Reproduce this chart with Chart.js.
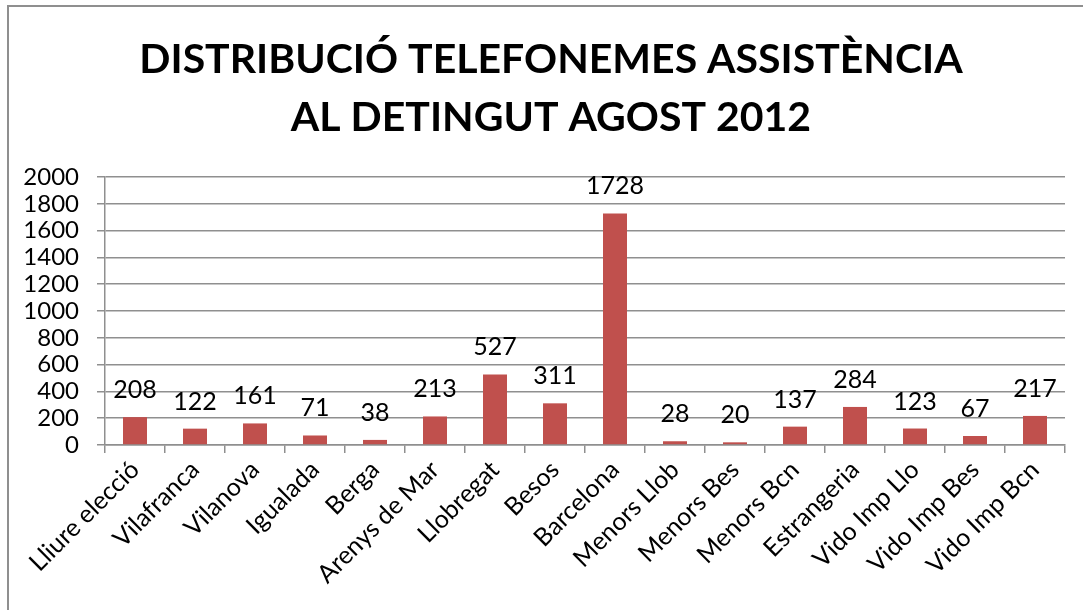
<!DOCTYPE html>
<html>
<head>
<meta charset="utf-8">
<script src="https://cdn.jsdelivr.net/npm/chart.js@4"></script>
<style>
  html, body { margin: 0; padding: 0; background: #fff; }
  #wrap { width: 1083px; height: 610px; }
</style>
</head>
<body>
<div id="wrap"><canvas id="grafic"></canvas></div>
<script>
// Dades del gràfic
const categories = ['Lliure elecció', 'Vilafranca', 'Vilanova', 'Igualada', 'Berga', 'Arenys de Mar',
    'Llobregat', 'Besos', 'Barcelona', 'Menors Llob', 'Menors Bes', 'Menors Bcn',
    'Estrangeria', 'Vido Imp Llo', 'Vido Imp Bes', 'Vido Imp Bcn'];
const trucades = [208, 122, 161, 71, 38, 213, 527, 311, 1728, 28, 20, 137, 284, 123, 67, 217];
const titol = ['DISTRIBUCIÓ TELEFONEMES ASSISTÈNCIA', 'AL DETINGUT AGOST 2012'];
const yMin = 0, yMax = 2000, yStep = 200;

const FONT = 'Lato, "Open Sans", sans-serif';
Chart.defaults.color = '#000';
Chart.defaults.font.family = FONT;

// Marc i fons
const fonsPlugin = {
    id: 'fons',
    beforeDraw(chart) {
        const ctx = chart.ctx;
        ctx.save();
        ctx.fillStyle = '#fff';
        ctx.fillRect(0, 0, chart.width, chart.height);
        ctx.strokeStyle = '#8f8f8f';
        ctx.lineWidth = 2;
        ctx.strokeRect(8, 6, chart.width + 20, chart.height + 20);
        ctx.restore();
    }
};

// El títol queda una mica desplaçat a la dreta
const titolPlugin = {
    id: 'titolDesplacat',
    afterLayout(chart) {
        if (chart.titleBlock) {
            chart.titleBlock.left += 17;
            chart.titleBlock.right += 0;
        }
    }
};

// Etiquetes de valor sobre cada barra
const etiquetesPlugin = {
    id: 'etiquetes',
    afterDatasetsDraw(chart) {
        const ctx = chart.ctx;
        const meta = chart.getDatasetMeta(0);
        ctx.save();
        ctx.font = '25px ' + FONT;
        ctx.fillStyle = '#000';
        ctx.textAlign = 'center';
        ctx.textBaseline = 'alphabetic';
        meta.data.forEach((bar, i) => {
            ctx.fillText(String(trucades[i]), bar.x, bar.y - 19);
        });
        ctx.restore();
    }
};

new Chart(document.getElementById('grafic'), {
    type: 'bar',
    data: {
        labels: categories,
        datasets: [{
            data: trucades,
            backgroundColor: '#C0504D',
            borderWidth: 0,
            categoryPercentage: 0.4,
            barPercentage: 1
        }]
    },
    options: {
        responsive: true,
        maintainAspectRatio: false,
        animation: false,
        layout: { padding: { left: 20, right: 18, top: 0, bottom: 0 } },
        plugins: {
            legend: { display: false },
            tooltip: { enabled: false },
            title: {
                display: true,
                text: titol,
                color: '#000',
                font: { size: 41, weight: 'bold', family: FONT, lineHeight: 58 / 41 },
                padding: { top: 31, bottom: 30 }
            }
        },
        scales: {
            x: {
                afterFit(scale) { scale.height = 165; },
                grid: {
                    drawOnChartArea: false,
                    drawTicks: true,
                    tickLength: 8,
                    color: '#8f8f8f',
                    lineWidth: 1.5
                },
                border: { color: '#8f8f8f', width: 1.5 },
                ticks: {
                    font: { size: 25 },
                    minRotation: 45,
                    maxRotation: 45,
                    autoSkip: false,
                    padding: 2
                }
            },
            y: {
                min: yMin,
                max: yMax,
                afterFit(scale) { scale.width = 85; },
                grid: {
                    color: '#8f8f8f',
                    lineWidth: 1.5,
                    tickLength: 8
                },
                border: { color: '#8f8f8f', width: 1.5 },
                ticks: {
                    stepSize: yStep,
                    autoSkip: false,
                    font: { size: 24 },
                    padding: 18,
                    callback: (v) => String(v)
                }
            }
        }
    },
    plugins: [fonsPlugin, titolPlugin, etiquetesPlugin]
});
</script>
</body>
</html>
